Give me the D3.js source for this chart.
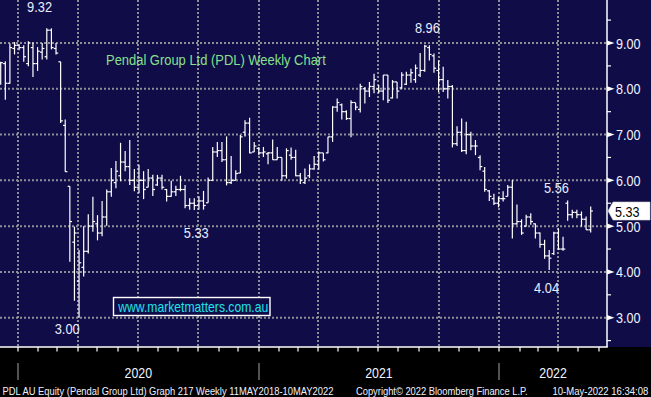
<!DOCTYPE html>
<html>
<head>
<meta charset="utf-8">
<script src="https://cdn.jsdelivr.net/npm/d3@7"></script>
<style>
  html, body { margin: 0; padding: 0; background: #000; }
  svg { display: block; }
  text { font-family: "Liberation Sans", Arial, sans-serif; }
</style>
</head>
<body>
<svg id="chart" width="651" height="397"></svg>
<script>
// ---------------- DATA ----------------
const firstBarDate = new Date(2019, 11, 6); // weekly bars (Fridays)
const highs = [8.59,8.60,8.99,9.02,8.97,8.95,9.04,9.01,8.91,9.00,9.32,9.32,9.00,8.59,7.33,5.87,4.99,4.48,5.00,5.26,
  5.64,5.24,5.55,5.80,6.27,6.42,6.82,6.64,6.88,6.25,6.34,6.20,6.25,6.12,6.12,6.12,5.81,5.99,5.88,6.10,
  5.90,5.61,5.61,5.65,5.77,6.06,6.73,6.84,6.84,6.96,6.53,6.22,6.99,7.31,7.37,6.84,6.73,6.73,6.62,6.89,
  6.73,6.50,6.70,6.72,6.67,6.16,6.26,6.35,6.53,6.63,6.60,6.95,7.62,7.79,7.68,7.53,7.75,7.69,8.11,8.04,
  8.15,8.33,8.08,8.30,8.30,8.19,8.15,8.36,8.37,8.44,8.53,8.78,8.96,8.95,8.77,8.62,8.48,8.19,8.08,7.18,
  7.35,7.28,7.06,6.88,6.55,6.29,5.79,5.71,5.64,5.76,5.90,6.01,5.47,5.15,5.25,5.28,5.06,4.86,4.70,4.48,
  4.88,4.95,4.77,5.56,5.36,5.36,5.32,5.21,5.43];
const lows = [8.09,7.76,8.11,8.75,8.84,8.59,8.49,8.26,8.39,8.64,8.64,8.86,8.75,7.25,6.19,4.22,3.37,3.00,3.90,4.40,
  4.88,4.69,4.78,5.01,5.64,5.83,5.98,6.20,5.90,5.76,5.72,5.59,5.85,5.66,5.88,5.80,5.54,5.64,5.66,5.76,
  5.39,5.36,5.35,5.36,5.36,5.51,6.00,6.51,6.40,5.89,5.92,6.00,6.16,6.96,6.59,6.62,6.55,6.51,6.35,6.45,
  6.45,5.99,6.04,6.45,6.09,5.92,5.92,6.05,6.23,6.23,6.41,6.59,6.84,7.50,7.33,7.32,6.94,7.53,7.48,7.68,
  7.82,7.90,7.90,7.75,7.69,7.79,7.79,8.00,8.08,8.13,8.13,8.26,8.37,8.62,8.35,7.93,7.93,7.79,6.72,6.75,
  6.62,6.57,6.66,6.55,6.22,5.75,5.55,5.46,5.41,5.54,5.65,4.73,5.03,4.81,4.99,5.03,4.73,4.53,4.29,4.04,
  4.37,4.48,4.46,5.12,5.17,5.17,4.99,4.92,4.86];
const opens = [8.55,8.55,8.12,8.88,8.95,8.90,8.55,8.90,8.55,8.80,8.70,9.28,8.88,8.59,7.20,5.87,4.65,3.80,4.10,4.45,
  5.00,5.05,4.85,5.20,5.75,5.95,6.10,6.40,6.30,6.00,5.85,6.00,5.85,6.05,5.90,6.05,5.80,5.65,5.75,5.80,
  5.80,5.45,5.50,5.45,5.55,5.51,6.00,6.62,6.65,6.45,5.95,6.00,6.16,7.05,7.25,6.62,6.70,6.60,6.58,6.60,
  6.45,6.50,6.10,6.55,6.50,6.10,5.95,6.10,6.25,6.35,6.60,6.60,6.95,7.60,7.65,7.50,7.35,7.70,7.55,8.00,
  7.95,8.05,8.00,7.95,8.30,7.80,8.15,8.02,8.10,8.30,8.20,8.30,8.40,8.90,8.72,8.40,8.20,8.00,8.05,6.80,
  7.05,6.65,7.00,6.75,6.50,6.20,5.77,5.60,5.50,5.60,5.65,5.85,5.05,5.10,5.00,5.20,5.05,4.85,4.60,4.35,
  4.40,4.85,4.50,5.50,5.25,5.30,5.25,5.15,4.92];
const closes = [8.57,8.12,8.90,8.95,8.90,8.70,9.00,8.55,8.82,8.88,9.28,8.90,8.78,7.30,6.19,5.10,4.85,4.20,4.45,5.00,
  5.10,4.85,5.20,5.75,6.00,6.20,6.40,6.30,6.00,5.85,6.00,5.80,6.05,5.80,6.05,5.85,5.65,5.75,5.80,5.80,
  5.45,5.50,5.45,5.55,5.45,6.00,6.62,6.65,6.45,5.95,6.00,6.15,6.95,7.25,6.60,6.75,6.60,6.62,6.60,6.45,
  6.50,6.10,6.65,6.50,6.10,6.00,6.05,6.25,6.35,6.60,6.45,6.95,7.60,7.70,7.50,7.35,7.70,7.60,8.05,7.95,
  8.05,8.20,7.95,8.30,7.75,8.15,7.95,8.30,8.30,8.35,8.45,8.40,8.93,8.75,8.45,8.20,8.00,8.05,6.80,7.05,
  6.65,7.00,6.75,6.75,6.30,5.80,5.65,5.50,5.60,5.60,5.85,5.05,5.10,4.85,5.20,5.10,4.85,4.60,4.35,4.30,
  4.85,4.50,4.50,5.25,5.30,5.25,5.15,4.92,5.33];
const priceTicks = [3, 4, 5, 6, 7, 8, 9];
const minorTicks = [2.5, 3.5, 4.5, 5.5, 6.5, 7.5, 8.5, 9.5];
const annotations = [
  { text: "9.32", date: new Date(2020, 1, 3),  value: 9.32, dy: -16.5 },
  { text: "3.00", date: new Date(2020, 2, 16), value: 3.00, dy: 16.5 },
  { text: "5.33", date: new Date(2020, 8, 28), value: 5.33, dy: 27 },
  { text: "8.96", date: new Date(2021, 8, 14), value: 8.96, dy: -12 },
  { text: "5.56", date: new Date(2022, 2, 29), value: 5.56, dy: -7.5 },
  { text: "4.04", date: new Date(2022, 2, 14), value: 4.04, dy: 23 }
];
const lastPrice = 5.33;
const titleText = "Pendal Group Ltd (PDL) Weekly Chart";
const watermarkText = "www.marketmatters.com.au";
const footerLeft = "PDL AU Equity (Pendal Group Ltd) Graph 217  Weekly 11MAY2018-10MAY2022";
const footerMid = "Copyright\u00A9 2022 Bloomberg Finance L.P.";
const footerRight = "10-May-2022 16:34:08";

// ---------------- LAYOUT ----------------
const W = 651, H = 397;
const plotRight = 607, plotBottom = 347;
const bg = "#100c48";
const dates = highs.map((_, i) => d3.timeWeek.offset(firstBarDate, i));

const x = d3.scaleTime()
  .domain([dates[0], dates[dates.length - 1]])
  .range([0.7, 590.7]);
const y = d3.scaleLinear().domain([3, 9]).range([317.7, 43]);

// squeeze a text horizontally to a target width (keeps glyph height)
function fit(sel, tx, ty, width, anchor) {
  sel.attr("x", 0).attr("y", 0).attr("text-anchor", anchor || "start");
  const len = sel.node().getComputedTextLength();
  const s = width / len;
  sel.attr("transform", `translate(${tx},${ty}) scale(${s},1)`);
  return sel;
}

const svg = d3.select("#chart");
svg.append("rect").attr("width", W).attr("height", H).attr("fill", "#000");
svg.append("rect").attr("width", W).attr("height", plotBottom).attr("fill", bg);

const gridColor = "#8e8e96";
svg.append("g").selectAll("line").data(priceTicks).join("line")
  .attr("x1", 0).attr("x2", plotRight)
  .attr("y1", d => y(d)).attr("y2", d => y(d))
  .attr("stroke", gridColor).attr("stroke-width", 2).attr("stroke-dasharray", "2,2");

const quarterDates = d3.timeMonth.every(3).range(new Date(2020, 0, 1), x.invert(plotRight));
svg.append("g").selectAll("line").data(quarterDates).join("line")
  .attr("x1", d => Math.round(x(d))).attr("x2", d => Math.round(x(d)))
  .attr("y1", 0).attr("y2", plotBottom)
  .attr("stroke", gridColor).attr("stroke-width", 2).attr("stroke-dasharray", "2,2");

// title
fit(svg.append("text").attr("font-size", 14).attr("fill", "#86e08c").text(titleText), 106, 65, 220);

// OHLC bars
const bars = svg.append("g").attr("stroke", "#fff").attr("stroke-width", 1.2).attr("fill", "none");
const bar = bars.selectAll("g").data(dates.map((d, i) => ({ d, h: highs[i], l: lows[i], o: opens[i], c: closes[i] })))
  .join("g");
bar.append("line")
  .attr("x1", d => x(d.d)).attr("x2", d => x(d.d))
  .attr("y1", d => y(d.h)).attr("y2", d => y(d.l));
bar.append("line")
  .attr("x1", d => x(d.d) - 2.2).attr("x2", d => x(d.d))
  .attr("y1", d => y(d.o)).attr("y2", d => y(d.o));
bar.append("line")
  .attr("x1", d => x(d.d)).attr("x2", d => x(d.d) + 2.2)
  .attr("y1", d => y(d.c)).attr("y2", d => y(d.c));

// annotations
svg.append("g").selectAll("text").data(annotations).join("text")
  .attr("font-size", 14).attr("fill", "#e8eeff")
  .text(d => d.text)
  .each(function (d) {
    fit(d3.select(this), x(d.date), y(d.value) + d.dy, 25, "middle");
  });

// watermark box
const wm = svg.append("g");
wm.append("rect").attr("x", 113.5).attr("y", 297.5).attr("width", 156.5).attr("height", 18)
  .attr("fill", bg).attr("stroke", "#fff").attr("stroke-width", 1.4);
fit(wm.append("text").attr("font-size", 14.5).attr("fill", "#1ee4ea").text(watermarkText), 118.3, 311.5, 150);

// right axis
const ax = svg.append("g");
ax.append("line").attr("x1", plotRight).attr("x2", plotRight).attr("y1", 0).attr("y2", plotBottom)
  .attr("stroke", "#fff").attr("stroke-width", 1.5);
ax.selectAll("path.tri").data(priceTicks).join("path").attr("class", "tri")
  .attr("d", d => `M${plotRight},${y(d) - 2.6}L${plotRight + 7.5},${y(d)}L${plotRight},${y(d) + 2.6}Z`)
  .attr("fill", "#fff");
ax.selectAll("line.minor").data(minorTicks).join("line").attr("class", "minor")
  .attr("x1", plotRight).attr("x2", plotRight + 4)
  .attr("y1", d => y(d)).attr("y2", d => y(d))
  .attr("stroke", "#fff").attr("stroke-width", 1.2);
ax.selectAll("text").data(priceTicks).join("text")
  .attr("font-size", 14).attr("fill", "#f2f4ff")
  .text(d => d3.format(".2f")(d))
  .each(function (d) { fit(d3.select(this), 616, y(d) + 5.5, 24.5); });

// last price box
const ly = y(lastPrice);
svg.append("path")
  .attr("d", `M608,${ly}L613,${ly - 9}L650,${ly - 9}L650,${ly + 9}L613,${ly + 9}Z`)
  .attr("fill", "#fff").attr("stroke", "#d0d0d0").attr("stroke-width", 0.6);
fit(svg.append("text").attr("font-size", 14).attr("fill", "#000").text(d3.format(".2f")(lastPrice)),
  615, ly + 5.5, 24.5);

// bottom axis
svg.append("line").attr("x1", 0).attr("x2", plotRight + 0.75).attr("y1", plotBottom).attr("y2", plotBottom)
  .attr("stroke", "#fff").attr("stroke-width", 1.5);
const monthDates = d3.timeMonth.every(1).range(x.invert(0), x.invert(plotRight));
svg.append("g").selectAll("line").data(monthDates).join("line")
  .attr("x1", d => Math.round(x(d))).attr("x2", d => Math.round(x(d)))
  .attr("y1", plotBottom).attr("y2", plotBottom + 4.5)
  .attr("stroke", "#fff").attr("stroke-width", 1.2);

// year separators and labels
const yearStarts = d3.timeYear.every(1).range(x.invert(0), x.invert(plotRight));
svg.append("g").selectAll("line").data(yearStarts).join("line")
  .attr("x1", d => Math.round(x(d))).attr("x2", d => Math.round(x(d)))
  .attr("y1", 363).attr("y2", 380)
  .attr("stroke", "#8a8a8a").attr("stroke-width", 1.2);
svg.append("g").selectAll("text").data(yearStarts).join("text")
  .attr("font-size", 15).attr("fill", "#f2f4ff")
  .text(d => d3.timeFormat("%Y")(d))
  .each(function (d) {
    const cx = (Math.max(0, x(d)) + Math.min(plotRight, x(d3.timeYear.offset(d, 1)))) / 2;
    fit(d3.select(this), cx, 378, 27.5, "middle");
  });

// footer
const footer = svg.append("g").attr("font-size", 11).attr("fill", "#eef2ff");
fit(footer.append("text").text(footerLeft), 2.5, 394.5, 331);
fit(footer.append("text").text(footerMid), 356, 394.5, 172);
fit(footer.append("text").text(footerRight), 552.5, 394.5, 96);
</script>
</body>
</html>
